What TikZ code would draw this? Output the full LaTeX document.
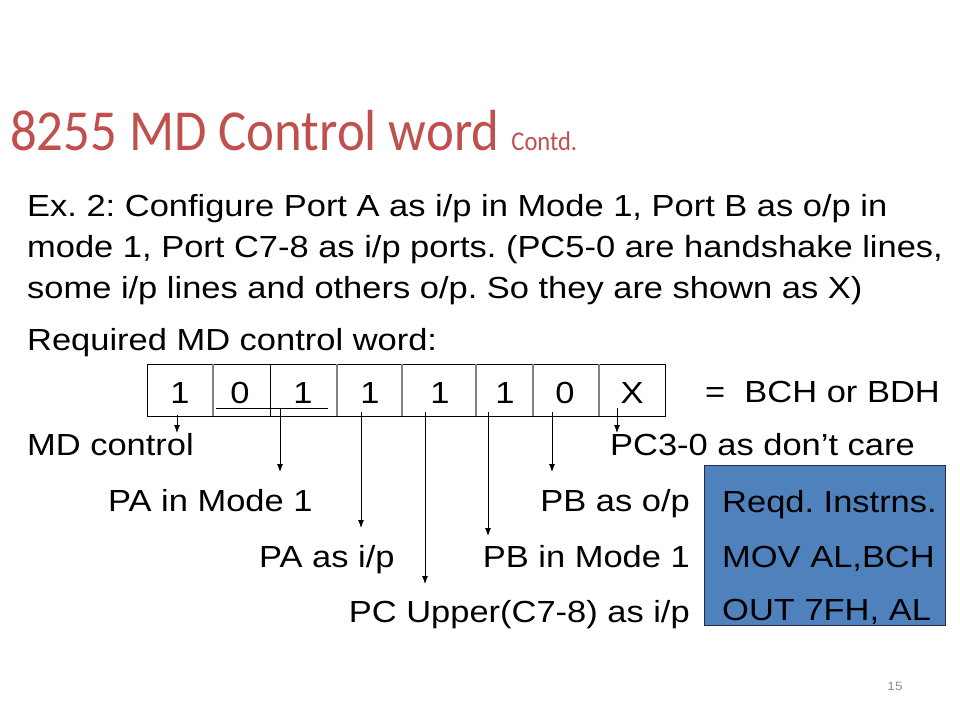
\documentclass[tikz,border=0pt]{standalone}
\usepackage{fontspec}
\setmainfont[FakeStretch=1.13]{Liberation Sans}
\newfontfamily\titlefont[FakeStretch=0.91]{Carlito}
\usetikzlibrary{arrows.meta}
\definecolor{titlered}{RGB}{192,80,77}
\definecolor{boxblue}{RGB}{79,129,189}
\definecolor{boxedge}{RGB}{35,45,75}
\definecolor{divgray}{RGB}{130,130,130}
\definecolor{pagegray}{RGB}{140,140,140}
\frenchspacing
\tikzset{
	body/.style={inner sep=0pt, font=\fontsize{30.5}{36}\selectfont},
	bit/.style={body, anchor=base},
	pointer/.style={line width=0.9pt, -{Latex[length=8pt,width=6pt]}}
}

\begin{document}
\begin{tikzpicture}[x=1pt, y=-1pt]
			%%%%% START %%%%%
			\useasboundingbox[fill=white] (0, 0) rectangle (960, 720);
			
			\node[anchor=base west, inner sep=0pt, text=titlered, font=\titlefont\fontsize{58}{60}\selectfont] (title) at (10, 150) {8255 MD Control word {\fontsize{27}{30}\selectfont Contd.}};
			
			\node[body, anchor=base west] (ex1) at (27, 216) {Ex. 2: Configure Port A as i/p in Mode 1, Port B as o/p in};
			\node[body, anchor=base west] (ex2) at (27, 257) {mode 1, Port C7-8 as i/p ports. (PC5-0 are handshake lines,};
			\node[body, anchor=base west] (ex3) at (27, 298) {some i/p lines and others o/p. So they are shown as X)};
			\node[body, anchor=base west] (req) at (27, 350) {Required MD control word:};
			
			% the control word
			\draw[line width=0.8pt] (147, 364) rectangle (665, 416);
			\foreach \x in {213, 337, 402, 476, 533, 599}
				\draw[line width=1.4pt, color=divgray] (\x, 364) -- (\x, 416);
			\draw[line width=0.8pt] (270, 364) -- (270, 416);
			
			\node[bit] (b7) at (180, 403) {1};
			\node[bit] (b6) at (240, 403) {0};
			\node[bit] (b5) at (303, 403) {1};
			\node[bit] (b4) at (370, 403) {1};
			\node[bit] (b3) at (440, 403) {1};
			\node[bit] (b2) at (505, 403) {1};
			\node[bit] (b1) at (565, 403) {0};
			\node[bit] (b0) at (632, 403) {X};
			\node[body, anchor=base west] (hex) at (705, 402) {=\ \ BCH or BDH};
			
			% labels below
			\node[body, anchor=base west] (lmd) at (27, 455) {MD control};
			\node[body, anchor=base west] (lpc) at (610, 455) {PC3-0 as don’t care};
			\node[body, anchor=base west] (lpam) at (108, 511) {PA in Mode 1};
			\node[body, anchor=base east] (lpbo) at (690, 511) {PB as o/p};
			\node[body, anchor=base west] (lpai) at (259, 567) {PA as i/p};
			\node[body, anchor=base east] (lpbm) at (690, 567) {PB in Mode 1};
			\node[body, anchor=base east] (lpcu) at (690, 622) {PC Upper(C7-8) as i/p};
			
			% arrows
			\coordinate (s7) at (177, 415);  \coordinate (t7) at (177, 433);
			\coordinate (s65) at (280, 408); \coordinate (t65) at (280, 472);
			\coordinate (s4) at (361, 412);  \coordinate (t4) at (361, 528);
			\coordinate (s3) at (425, 412);  \coordinate (t3) at (425, 584);
			\coordinate (s2) at (488, 412);  \coordinate (t2) at (488, 536);
			\coordinate (s1) at (552, 412);  \coordinate (t1) at (552, 472);
			\coordinate (s0) at (617, 408);  \coordinate (t0) at (617, 433);
			
			\draw[line width=0.9pt] (216, 408) -- (328, 408);
			\draw[pointer] (s7) -- (t7);
			\draw[pointer] (s65) -- (t65);
			\draw[pointer] (s4) -- (t4);
			\draw[pointer] (s3) -- (t3);
			\draw[pointer] (s2) -- (t2);
			\draw[pointer] (s1) -- (t1);
			\draw[pointer] (s0) -- (t0);
			
			% instructions
			\draw[line width=1pt, fill=boxblue, draw=boxedge] (704, 465) rectangle (945, 625);
			\node[body, anchor=base west] (ins1) at (722, 512) {Reqd. Instrns.};
			\node[body, anchor=base west] (ins2) at (722, 567) {MOV AL,BCH};
			\node[body, anchor=base west] (ins3) at (722, 620) {OUT 7FH, AL};
			
			\node[text=pagegray, font=\fontsize{12}{14}\selectfont] (page) at (895, 686) {15};
			
			%%%%% END %%%%%
\end{tikzpicture}
\end{document}
